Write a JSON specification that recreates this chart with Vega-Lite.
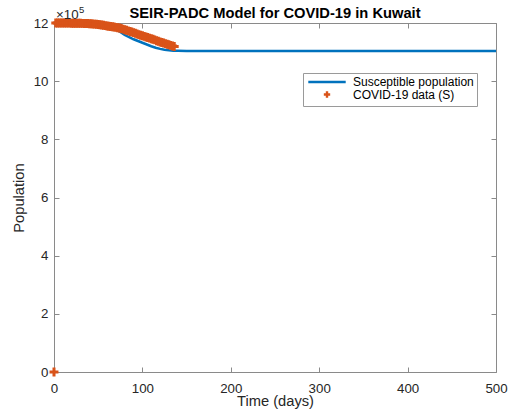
{
  "$schema": "https://vega.github.io/schema/vega-lite/v6.json",
  "width": 442,
  "height": 349,
  "autosize": {"type": "none"},
  "padding": {"left": 54, "top": 23, "right": 14, "bottom": 47},
  "background": "white",
  "config": {
    "view": {"stroke": null},
    "font": "Liberation Sans",
    "axis": {
      "grid": false,
      "domainColor": "#8a8a8a",
      "tickColor": "#8a8a8a",
      "tickSize": -5,
      "labelFlush": false,
      "labelFont": "Liberation Sans",
      "labelFontSize": 13.3,
      "labelColor": "#262626",
      "titleFont": "Liberation Sans",
      "titleFontSize": 14.7,
      "titleFontWeight": "normal",
      "titleColor": "#262626",
      "domainWidth": 1,
      "tickWidth": 1
    }
  },
  "title": {
    "text": "SEIR-PADC Model for COVID-19 in Kuwait",
    "font": "Liberation Sans",
    "fontSize": 14.7,
    "fontWeight": "bold",
    "color": "#000000",
    "anchor": "middle",
    "offset": 2,
    "dy": 18
  },
  "datasets": {
    "model": [
      {"day": 0, "S": 1199900}, {"day": 20, "S": 1199800}, {"day": 40, "S": 1199000},
      {"day": 50, "S": 1197500}, {"day": 55, "S": 1196000}, {"day": 60, "S": 1193000},
      {"day": 65, "S": 1187000}, {"day": 70, "S": 1179000}, {"day": 75, "S": 1169000},
      {"day": 80, "S": 1159000}, {"day": 85, "S": 1151000}, {"day": 90, "S": 1144000},
      {"day": 95, "S": 1138000}, {"day": 100, "S": 1132000}, {"day": 105, "S": 1126000},
      {"day": 110, "S": 1120000}, {"day": 115, "S": 1115000}, {"day": 120, "S": 1111000},
      {"day": 125, "S": 1108000}, {"day": 130, "S": 1106000}, {"day": 135, "S": 1105000},
      {"day": 140, "S": 1104500}, {"day": 150, "S": 1104000}, {"day": 200, "S": 1104000},
      {"day": 300, "S": 1104000}, {"day": 400, "S": 1104000}, {"day": 500, "S": 1104000}
    ],
    "obs": [
      {"day": 0, "S": 0},
      {"day": 2, "S": 1199900}, {"day": 4, "S": 1199900}, {"day": 6, "S": 1199800},
      {"day": 8, "S": 1199800}, {"day": 10, "S": 1199700}, {"day": 12, "S": 1199700},
      {"day": 14, "S": 1199600}, {"day": 16, "S": 1199500}, {"day": 18, "S": 1199500},
      {"day": 20, "S": 1199400}, {"day": 22, "S": 1199300}, {"day": 24, "S": 1199200},
      {"day": 26, "S": 1199100}, {"day": 28, "S": 1199000}, {"day": 30, "S": 1198900},
      {"day": 32, "S": 1198700}, {"day": 34, "S": 1198500}, {"day": 36, "S": 1198300},
      {"day": 38, "S": 1198000}, {"day": 40, "S": 1197700}, {"day": 42, "S": 1197300},
      {"day": 44, "S": 1196800}, {"day": 46, "S": 1196200}, {"day": 48, "S": 1195500},
      {"day": 50, "S": 1194700}, {"day": 52, "S": 1193800}, {"day": 54, "S": 1192900},
      {"day": 56, "S": 1192000}, {"day": 58, "S": 1191000}, {"day": 60, "S": 1190000},
      {"day": 62, "S": 1189000}, {"day": 64, "S": 1188000}, {"day": 66, "S": 1187000},
      {"day": 68, "S": 1186000}, {"day": 70, "S": 1185000}, {"day": 72, "S": 1184000},
      {"day": 74, "S": 1183000}, {"day": 76, "S": 1181000}, {"day": 78, "S": 1179000},
      {"day": 80, "S": 1177000}, {"day": 82, "S": 1175000}, {"day": 84, "S": 1173000},
      {"day": 86, "S": 1171000}, {"day": 88, "S": 1169000}, {"day": 90, "S": 1167000},
      {"day": 92, "S": 1165000}, {"day": 94, "S": 1162000}, {"day": 96, "S": 1160000},
      {"day": 98, "S": 1158000}, {"day": 100, "S": 1156000}, {"day": 102, "S": 1154000},
      {"day": 104, "S": 1152000}, {"day": 106, "S": 1150000}, {"day": 108, "S": 1148000},
      {"day": 110, "S": 1146000}, {"day": 112, "S": 1144000}, {"day": 114, "S": 1142000},
      {"day": 116, "S": 1139000}, {"day": 118, "S": 1137000}, {"day": 120, "S": 1135000},
      {"day": 122, "S": 1133000}, {"day": 124, "S": 1131000}, {"day": 126, "S": 1129000},
      {"day": 128, "S": 1127000}, {"day": 130, "S": 1125000}, {"day": 132, "S": 1123000},
      {"day": 134, "S": 1121000}, {"day": 136, "S": 1119000}
    ]
  },
  "layer": [
    {
      "data": {"name": "model"},
      "mark": {"type": "line", "strokeWidth": 2.5, "clip": false},
      "encoding": {
        "x": {
          "field": "day", "type": "quantitative",
          "scale": {"domain": [0, 500], "nice": false},
          "axis": {"orient": "bottom", "values": [0, 100, 200, 300, 400, 500], "title": "Time (days)", "labelPadding": 14, "titlePadding": -1}
        },
        "y": {
          "field": "S", "type": "quantitative",
          "scale": {"domain": [0, 1200000], "nice": false},
          "axis": {"orient": "left", "values": [0, 200000, 400000, 600000, 800000, 1000000, 1200000], "labelExpr": "format(datum.value / 100000, 'd')", "title": "Population", "labelPadding": 11, "titlePadding": 7}
        },
        "color": {
          "datum": "Susceptible population",
          "type": "nominal",
          "scale": {"domain": ["Susceptible population", "COVID-19 data (S)"], "range": ["#0072BD", "#D95319"]},
          "legend": {
            "orient": "none",
            "legendX": 249,
            "legendY": 50,
            "title": null,
            "labelFont": "Liberation Sans",
            "labelFontSize": 12,
            "labelColor": "#000000",
            "strokeColor": "#9a9a9a",
            "fillColor": "white",
            "padding": 3,
            "rowPadding": -1.5,
            "symbolSize": 1400,
            "symbolType": "stroke",
            "symbolStrokeWidth": 2.5,
            "symbolOffset": 15,
            "labelOffset": 20,
            "encode": {
              "symbols": {
                "update": {
                  "shape": {"signal": "datum.value === 'Susceptible population' ? 'M-1,0L1,0' : 'M-0.17,0L0.17,0M0,-0.17L0,0.17'"},
                  "strokeWidth": {"signal": "datum.value === 'Susceptible population' ? 2.5 : 2.4"},
                  "fill": {"value": "transparent"},
                  "stroke": {"scale": "color", "field": "value"},
                  "opacity": {"value": 1}
                }
              }
            }
          }
        }
      }
    },
    {
      "data": {"name": "obs"},
      "mark": {"type": "point", "shape": "M-1,0L1,0M0,-1L0,1", "filled": false, "strokeWidth": 3, "size": 80, "opacity": 1, "clip": false},
      "encoding": {
        "x": {"field": "day", "type": "quantitative", "scale": {"domain": [0, 500], "nice": false}, "axis": null},
        "y": {"field": "S", "type": "quantitative", "scale": {"domain": [0, 1200000], "nice": false}, "axis": null},
        "color": {"datum": "COVID-19 data (S)", "type": "nominal"}
      }
    },
    {
      "data": {"values": [{"t": "×10"}]},
      "mark": {"type": "text", "align": "left", "baseline": "alphabetic", "dx": 2, "dy": -4, "fontSize": 13.3, "font": "Liberation Sans", "color": "#262626"},
      "encoding": {
        "text": {"field": "t"},
        "x": {"datum": 0, "type": "quantitative", "scale": {"domain": [0, 500], "nice": false}, "axis": {"orient": "top", "values": [0, 100, 200, 300, 400, 500], "labels": false, "title": null}},
        "y": {"datum": 1200000, "type": "quantitative", "scale": {"domain": [0, 1200000], "nice": false}, "axis": {"orient": "right", "values": [0, 200000, 400000, 600000, 800000, 1000000, 1200000], "labels": false, "title": null}}
      }
    },
    {
      "data": {"values": [{"t": "5"}]},
      "mark": {"type": "text", "align": "left", "baseline": "alphabetic", "dx": 25, "dy": -10, "fontSize": 9.5, "font": "Liberation Sans", "color": "#262626"},
      "encoding": {
        "text": {"field": "t"},
        "x": {"datum": 0, "type": "quantitative", "scale": {"domain": [0, 500], "nice": false}, "axis": null},
        "y": {"datum": 1200000, "type": "quantitative", "scale": {"domain": [0, 1200000], "nice": false}, "axis": null}
      }
    }
  ],
  "resolve": {"axis": {"x": "independent", "y": "independent"}}
}
